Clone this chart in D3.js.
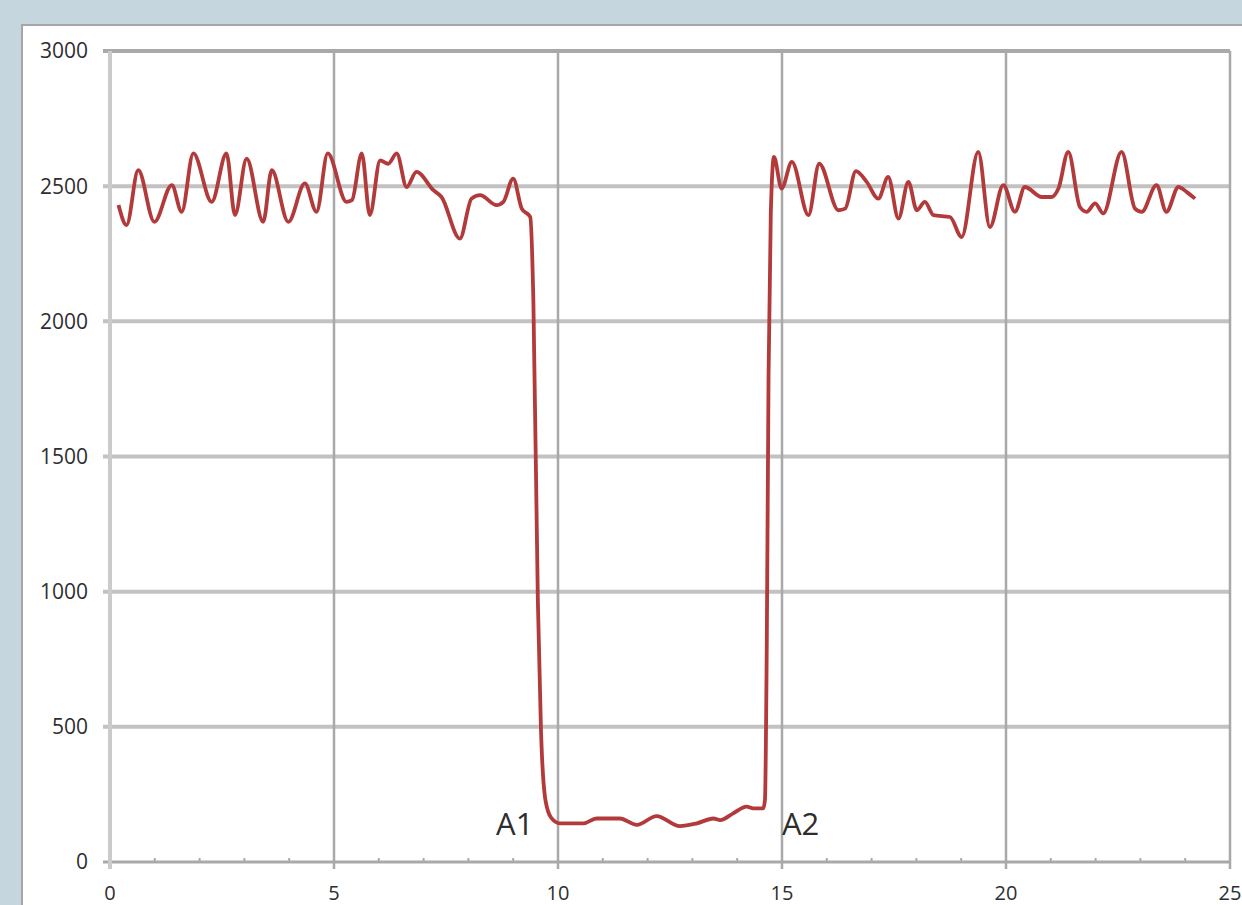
<!DOCTYPE html>
<html>
<head>
<meta charset="utf-8">
<script src="https://cdn.jsdelivr.net/npm/d3@7"></script>
<style>
  html, body { margin: 0; padding: 0; background: #c6d6df; }
  svg { display: block; }
  text { font-family: "Open Sans", sans-serif; fill: #2e2e2e; }
</style>
</head>
<body>
<svg id="chart" width="1242" height="905"></svg>
<script>
// time (x) and signal (y)
const xs = [0.19, 0.37, 0.63, 0.99, 1.38, 1.60, 1.86, 2.27, 2.60, 2.79, 3.05, 3.42, 3.61, 3.98, 4.35, 4.61,
  4.86, 5.28, 5.40, 5.62, 5.80, 6.03, 6.21, 6.40, 6.62, 6.84, 7.22, 7.40, 7.81, 8.07, 8.26, 8.63, 8.78,
  9.00, 9.19, 9.38, 9.45, 9.55, 9.62, 9.72, 9.85, 10.04, 10.57, 10.86, 11.38, 11.76, 12.20, 12.72, 13.10,
  13.47, 13.62, 13.91, 14.21, 14.36, 14.58, 14.62, 14.66, 14.70, 14.75, 14.82, 14.99, 15.22, 15.59, 15.83,
  16.26, 16.41, 16.65, 16.89, 17.15, 17.37, 17.60, 17.82, 18.01, 18.19, 18.38, 18.75, 19.01, 19.38, 19.64,
  19.94, 20.20, 20.42, 20.80, 21.02, 21.17, 21.39, 21.65, 21.80, 21.99, 22.17, 22.58, 22.88, 23.03, 23.36,
  23.58, 23.85, 24.03, 24.22];
const ys = [2430, 2356, 2559, 2368, 2504, 2405, 2621, 2442, 2621, 2393, 2602, 2368, 2559, 2368, 2510, 2405,
  2621, 2442, 2448, 2621, 2393, 2595, 2583, 2621, 2497, 2553, 2485, 2460, 2306, 2454, 2467, 2430, 2442,
  2528, 2417, 2386, 2078, 969, 488, 229, 163, 143, 143, 161, 161, 137, 170, 133, 143,
  161, 155, 180, 205, 198, 198, 230, 800, 1800, 2400, 2608, 2491, 2590, 2393, 2583,
  2411, 2417, 2556, 2516, 2454, 2534, 2380, 2516, 2411, 2442, 2393, 2386, 2312, 2627, 2349,
  2504, 2405, 2497, 2460, 2460, 2491, 2627, 2423, 2405, 2436, 2399, 2627, 2417, 2405, 2504,
  2405, 2497, 2479, 2454];

const xTicks = [0, 5, 10, 15, 20, 25];
const xMinor = d3.range(0, 26);
const yTicks = [0, 500, 1000, 1500, 2000, 2500, 3000];
const notes = [
  {label: 'A1', x: 9.45, y: 100, anchor: 'end'},
  {label: 'A2', x: 15.0, y: 100, anchor: 'start'}
];

const svg = d3.select('#chart');

// white chart panel
svg.append('rect')
  .attr('x', 22).attr('y', 25)
  .attr('width', 1260).attr('height', 900)
  .attr('fill', '#fff')
  .attr('stroke', '#a6a6a6')
  .attr('stroke-width', 2);

const x = d3.scaleLinear().domain([0, 25]).range([110, 1230]);
const y = d3.scaleLinear().domain([0, 3000]).range([862, 51]);

// horizontal grid
svg.append('g')
  .selectAll('line')
  .data(yTicks)
  .join('line')
  .attr('x1', 103).attr('x2', x(25))
  .attr('y1', d => y(d)).attr('y2', d => y(d))
  .attr('stroke', d => d === 3000 || d === 0 ? '#a9a9a9' : '#c2c2c2')
  .attr('stroke-width', d => d === 0 ? 3 : 4);

// vertical grid
svg.append('g')
  .selectAll('line')
  .data(xTicks)
  .join('line')
  .attr('x1', d => x(d)).attr('x2', d => x(d))
  .attr('y1', y(3000)).attr('y2', y(0) + 7)
  .attr('stroke', d => d === 0 ? '#cbcbcb' : '#a9a9a9')
  .attr('stroke-width', d => d === 0 ? 4 : 2.5);

// minor ticks
svg.append('g')
  .selectAll('line')
  .data(xMinor.filter(d => d % 5 !== 0))
  .join('line')
  .attr('x1', d => x(d)).attr('x2', d => x(d))
  .attr('y1', y(0) - 4).attr('y2', y(0))
  .attr('stroke', '#a9a9a9')
  .attr('stroke-width', 2);

// tick labels
svg.append('g')
  .selectAll('text')
  .data(yTicks)
  .join('text')
  .attr('x', 88)
  .attr('y', d => y(d))
  .attr('dy', '0.35em')
  .attr('text-anchor', 'end')
  .attr('font-size', 21)
  .text(d => d);

svg.append('g')
  .selectAll('text')
  .data(xTicks)
  .join('text')
  .attr('x', d => x(d))
  .attr('y', 900)
  .attr('text-anchor', 'middle')
  .attr('font-size', 20)
  .text(d => d);

// the signal
const line = d3.line()
  .x(d => x(d[0]))
  .y(d => y(d[1]))
  .curve(d3.curveMonotoneX);

svg.append('path')
  .datum(xs.map((v, i) => [v, ys[i]]))
  .attr('fill', 'none')
  .attr('stroke', '#b23a3a')
  .attr('stroke-width', 3.8)
  .attr('stroke-linejoin', 'round')
  .attr('d', line);

// A1 / A2 labels
svg.append('g')
  .selectAll('text')
  .data(notes)
  .join('text')
  .attr('x', d => x(d.x))
  .attr('y', d => y(d.y))
  .attr('text-anchor', d => d.anchor)
  .attr('font-size', 31)
  .attr('fill', '#222')
  .text(d => d.label);
</script>
</body>
</html>
